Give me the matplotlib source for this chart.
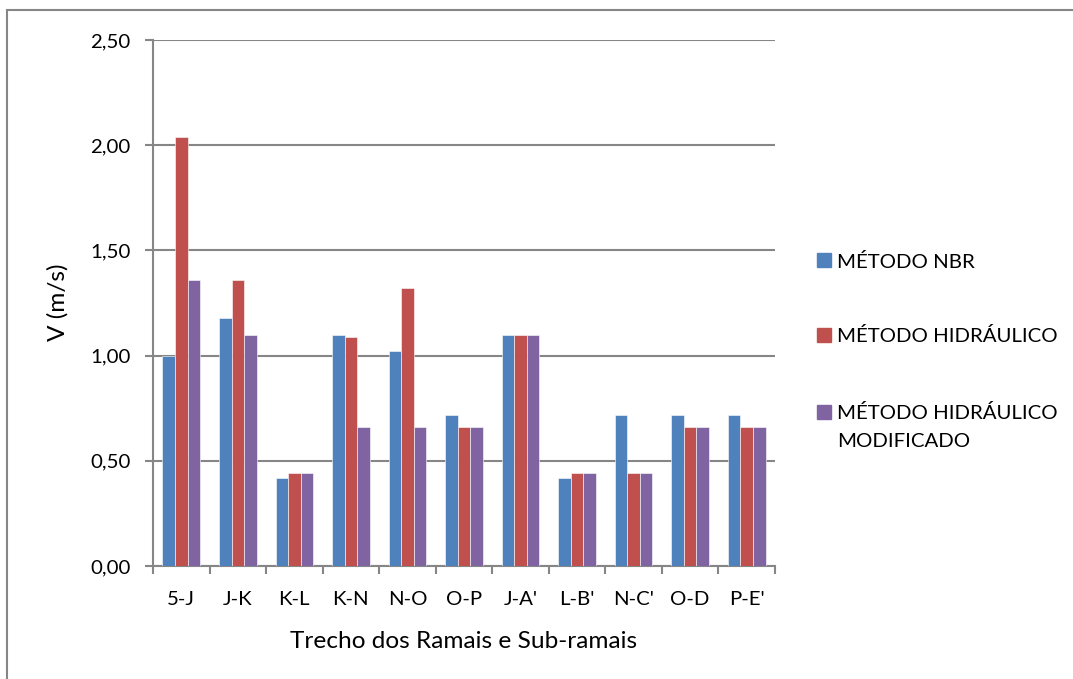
import numpy as np
import matplotlib.pyplot as plt
from matplotlib.patches import Rectangle
from matplotlib.ticker import FixedLocator, FuncFormatter

plt.rcParams['font.family'] = ['Lato', 'DejaVu Sans']
FS = 14.7      # rotulos dos eixos e legenda
FS_TIT = 17.6  # titulos dos eixos

trechos = ['5-J', 'J-K', 'K-L', 'K-N', 'N-O', 'O-P', 'J-A\'', 'L-B\'', 'N-C\'', 'O-D', 'P-E\'']
nbr = [1.00, 1.18, 0.42, 1.10, 1.02, 0.72, 1.10, 0.42, 0.72, 0.72, 0.72]
hidraulico = [2.04, 1.36, 0.44, 1.09, 1.32, 0.66, 1.10, 0.44, 0.44, 0.66, 0.66]
hidraulico_mod = [1.36, 1.10, 0.44, 0.66, 0.66, 0.66, 1.10, 0.44, 0.44, 0.66, 0.66]

series = [
    (nbr, 'MÉTODO NBR', '#4F81BD'),
    (hidraulico, 'MÉTODO HIDRÁULICO', '#C0504D'),
    (hidraulico_mod, 'MÉTODO HIDRÁULICO\nMODIFICADO', '#8064A2'),
]

W, H = 1073, 679
fig = plt.figure(figsize=(W / 100, H / 100), dpi=100)
ax = fig.add_axes([153 / W, 1 - 566 / H, (775 - 153) / W, (566 - 40) / H])

x = np.arange(len(trechos))
w = 0.222
for i, (vals, nome, cor) in enumerate(series):
    ax.bar(x + (i - 1) * w, vals, w, color=cor, label=nome,
           edgecolor='white', linewidth=0.4, zorder=3)

ax.set_xlim(-0.5, len(trechos) - 0.5)
ax.set_ylim(0, 2.5)
ax.set_yticks(np.arange(0, 2.51, 0.5))
ax.yaxis.set_major_formatter(FuncFormatter(lambda v, p: f'{v:.2f}'.replace('.', ',')))
ax.yaxis.grid(True, color='#868686', linewidth=1.5, zorder=0)

ax.set_xticks(x)
ax.set_xticklabels(trechos)
ax.xaxis.set_minor_locator(FixedLocator(np.arange(-0.5, len(trechos), 1.0)))
ax.tick_params(axis='x', which='major', length=0, pad=18, labelsize=FS)
ax.tick_params(axis='x', which='minor', length=6, width=1.5, color='#868686')
ax.tick_params(axis='y', length=6, width=1.5, color='#868686', labelsize=FS, pad=10)

for s in ['top', 'right']:
    ax.spines[s].set_visible(False)
for s in ['left', 'bottom']:
    ax.spines[s].set_color('#868686')
    ax.spines[s].set_linewidth(1.5)

# titulos dos eixos em posicao fixa na figura
fig.text(58 / W, 1 - 302 / H, 'V (m/s)', fontsize=FS_TIT, rotation=90,
         ha='center', va='center')
fig.text(464 / W, 1 - 642 / H, 'Trecho dos Ramais e Sub-ramais',
         fontsize=FS_TIT, ha='center', va='center')

# legenda: quadrado colorido + texto, uma linha de texto por vez
leg_y = [260, 335, 412]
for (vals, nome, cor), yc in zip(series, leg_y):
    fig.patches.append(Rectangle((817 / W, 1 - (yc + 7) / H), 14 / W, 14 / H,
                                 transform=fig.transFigure, color=cor))
    for k, linha in enumerate(nome.split('\n')):
        fig.text(837 / W, 1 - (yc + 28 * k) / H, linha, fontsize=FS,
                 va='center_baseline', ha='left')

# moldura externa do grafico
fig.patches.append(Rectangle((7 / W, -0.05), 1.1, 1 - 10 / H + 0.05,
                             transform=fig.transFigure, fill=False,
                             edgecolor='#868686', linewidth=1.5))

fig.savefig('out.png', dpi=100)
